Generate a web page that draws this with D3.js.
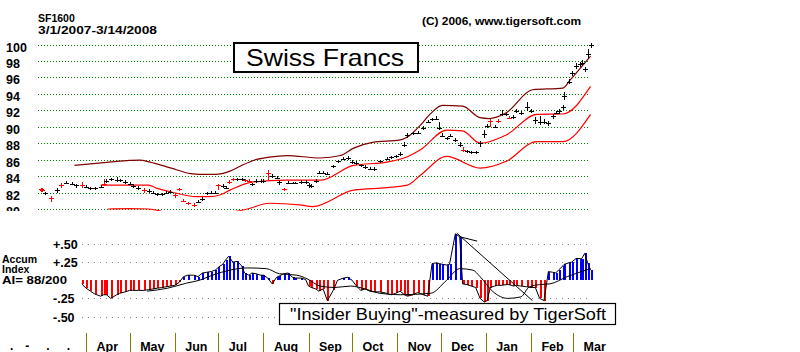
<!DOCTYPE html>
<html>
<head>
<meta charset="utf-8">
<script src="https://cdn.jsdelivr.net/npm/d3@7"></script>
<style>
body{margin:0;background:#fff}
text{font-family:"Liberation Sans",Arial,sans-serif}
</style>
</head>
<body>
<div id="chart"></div>
<script>
// daily bars (sampled), Swiss Francs SF1600
const priceDates = [
 "2007-03-01","2007-03-02","2007-03-04","2007-03-08","2007-03-12","2007-03-15","2007-03-18","2007-03-22","2007-03-25","2007-03-29",
 "2007-04-01","2007-04-04","2007-04-07","2007-04-11","2007-04-13","2007-04-15","2007-04-18","2007-04-22","2007-04-24","2007-04-28",
 "2007-05-01","2007-05-03","2007-05-07","2007-05-11","2007-05-14","2007-05-17","2007-05-20","2007-05-23","2007-05-26","2007-05-29",
 "2007-06-01","2007-06-04","2007-06-07","2007-06-10","2007-06-14","2007-06-17","2007-06-20","2007-06-23","2007-06-26","2007-06-29",
 "2007-07-01","2007-07-04","2007-07-06","2007-07-08","2007-07-11","2007-07-14","2007-07-17","2007-07-19","2007-07-22","2007-07-24","2007-07-27","2007-07-30",
 "2007-08-01","2007-08-04","2007-08-07","2007-08-10","2007-08-12","2007-08-15","2007-08-18","2007-08-21","2007-08-23","2007-08-27","2007-08-30",
 "2007-09-01","2007-09-03","2007-09-06","2007-09-08","2007-09-11","2007-09-14","2007-09-18","2007-09-21","2007-09-25","2007-09-28",
 "2007-10-01","2007-10-04","2007-10-07","2007-10-10","2007-10-13","2007-10-16","2007-10-20","2007-10-25","2007-10-28","2007-10-31",
 "2007-11-03","2007-11-06","2007-11-08","2007-11-12","2007-11-15","2007-11-19","2007-11-22","2007-11-25","2007-11-28","2007-11-30",
 "2007-12-02","2007-12-05","2007-12-07","2007-12-11","2007-12-14","2007-12-16","2007-12-19","2007-12-22","2007-12-25","2007-12-28","2007-12-31",
 "2008-01-02","2008-01-04","2008-01-07","2008-01-09","2008-01-12","2008-01-15","2008-01-17","2008-01-20","2008-01-22","2008-01-25","2008-01-29",
 "2008-02-01","2008-02-04","2008-02-07","2008-02-10","2008-02-13","2008-02-16","2008-02-18","2008-02-20","2008-02-23","2008-02-24","2008-02-27","2008-02-29",
 "2008-03-03","2008-03-06","2008-03-07","2008-03-09","2008-03-11","2008-03-13"
]
const priceClose = [
 82.4,82.3,81.9,81.3,82.3,82.9,83.2,83.1,82.9,82.9,
 82.7,82.5,82.5,82.7,83.1,83.4,83.6,83.5,83.5,83.3,
 83.1,82.8,82.55,82.3,82.2,82.0,81.8,81.8,82.0,82.1,
 81.65,82.4,81.0,80.7,80.5,80.9,81.2,81.9,82.0,82.0,
 82.9,82.8,82.6,83.3,83.6,83.6,83.6,83.5,83.4,83.0,83.4,83.4,
 83.4,84.4,84.0,83.8,83.3,82.4,83.2,83.15,83.15,83.3,83.3,
 82.9,82.8,83.4,84.4,84.4,84.3,85.2,85.8,86.05,86.15,
 85.7,85.6,85.3,85.1,84.9,84.9,85.8,86.05,86.3,86.4,
 86.7,87.8,89.0,89.2,89.3,89.85,90.6,90.9,91.0,89.85,
 88.9,88.6,88.9,88.4,87.8,87.2,87.0,86.9,86.9,88.0,89.1,
 90.1,90.7,90.0,90.75,91.6,91.5,91.1,91.2,91.9,91.7,92.4,
 91.9,90.8,90.6,90.6,90.4,91.3,91.7,91.9,92.4,93.7,95.5,96.5,
 97.4,97.6,97.8,97.0,98.8,100.0
]
const priceHigh = [
 82.6,82.5,82.1,81.6,82.5,83.2,83.4,83.3,83.1,83.3,
 82.9,82.7,82.7,82.9,83.6,83.6,83.8,83.9,83.7,83.5,
 83.3,83.0,82.8,82.5,82.4,82.2,82.0,82.0,82.2,82.3,
 81.9,82.6,81.2,80.9,80.7,81.1,81.4,82.1,82.2,82.2,
 83.1,83.0,82.8,83.5,83.8,83.8,83.8,83.7,83.6,83.2,83.6,83.6,
 83.6,84.7,84.2,84.0,83.5,82.6,83.4,83.3,83.3,83.5,83.5,
 83.2,83.0,83.6,84.6,84.6,84.5,85.4,86.0,86.3,86.4,
 85.9,85.8,85.5,85.3,85.1,85.1,86.0,86.3,86.5,86.6,
 86.9,88.1,89.2,89.4,89.5,90.1,90.8,91.1,91.3,90.6,
 89.2,88.8,89.1,88.6,88.1,87.5,87.2,87.1,87.1,88.3,89.6,
 90.3,91.0,90.2,91.0,92.0,91.7,91.3,91.4,92.1,91.9,93.0,
 92.1,91.2,91.3,91.0,90.7,91.5,91.9,92.1,92.7,94.2,95.8,96.8,
 97.8,97.9,98.1,97.3,99.4,100.2
]
const priceLow = [
 82.1,82.1,81.7,80.9,82.0,82.6,83.0,82.9,82.5,82.6,
 82.5,82.3,82.3,82.5,82.8,83.2,83.4,83.3,83.3,83.1,
 82.9,82.6,82.3,82.0,82.0,81.8,81.6,81.6,81.8,81.9,
 81.3,82.2,80.8,80.5,80.2,80.7,81.0,81.7,81.8,81.8,
 82.3,82.6,82.4,83.1,83.4,83.4,83.4,83.3,83.2,82.8,83.2,83.2,
 83.2,83.5,83.8,83.6,82.9,82.2,83.0,83.0,83.0,83.1,83.1,
 82.5,82.6,83.2,84.2,84.2,84.1,85.0,85.6,85.9,85.9,
 85.5,85.4,85.1,84.9,84.7,84.6,85.6,85.9,86.1,86.2,
 86.5,87.5,88.6,89.0,89.1,89.6,90.4,90.7,90.8,89.6,
 88.7,88.4,88.7,88.2,87.5,86.9,86.8,86.7,86.7,87.5,88.6,
 89.9,90.0,89.8,90.5,91.3,91.3,90.9,91.0,91.7,91.4,91.9,
 91.7,90.3,90.2,90.3,90.1,91.0,91.5,91.6,92.0,93.2,95.2,96.2,
 97.0,97.3,97.5,96.7,98.4,99.6
]
// 1 = red bar
const priceRed = [
 1,1,0,1,0,1,0,0,0,1,
 0,0,0,0,1,0,0,0,0,0,
 0,0,0,1,0,0,0,0,0,0,
 1,1,1,1,1,0,0,0,0,0,
 1,0,0,1,1,0,0,1,1,0,0,0,
 0,1,0,0,0,1,0,0,0,0,0,
 0,0,0,0,0,0,0,0,0,0,
 0,0,0,0,0,0,0,0,0,0,
 0,0,0,0,0,0,0,0,0,0,
 0,0,0,0,0,1,0,0,0,0,0,
 0,1,0,1,0,0,1,0,0,0,0,
 0,0,0,0,0,0,0,0,0,0,0,0,
 0,0,0,0,0,0
]

// bands
const upperDates = ["2007-03-24","2007-04-17","2007-05-01","2007-05-08","2007-05-15","2007-05-29","2007-06-12","2007-06-18","2007-06-29","2007-07-09","2007-07-16","2007-07-25","2007-08-05","2007-08-17","2007-09-09","2007-09-23","2007-10-02","2007-10-15","2007-11-03","2007-11-10","2007-11-17","2007-11-24","2007-12-02","2007-12-16","2007-12-28","2008-01-03","2008-01-15","2008-02-02","2008-02-23","2008-02-28","2008-03-13"]
const upperValues = [85.3,85.7,85.9,85.95,85.7,85.0,84.3,84.2,84.2,84.6,85.2,85.9,86.3,86.5,86.2,86.5,87.4,88.1,88.4,89.0,90.2,91.6,92.6,92.5,91.1,91.0,91.7,94.5,94.7,95.7,98.6]
const midDates = ["2007-04-11","2007-05-01","2007-05-14","2007-05-20","2007-05-29","2007-06-16","2007-06-25","2007-07-02","2007-07-09","2007-07-25","2007-08-17","2007-09-09","2007-10-02","2007-10-25","2007-11-08","2007-11-17","2007-12-05","2007-12-16","2007-12-28","2008-01-15","2008-02-05","2008-02-23","2008-03-13"]
const midValues = [82.9,82.9,82.9,82.5,82.1,81.5,81.5,81.7,82.3,83.3,83.5,83.5,85.3,85.7,86.35,87.2,89.6,89.5,88.0,89.0,91.5,91.55,94.9]
const lowerDates = ["2007-04-16","2007-05-01","2007-05-14","2007-05-29","2007-06-16","2007-07-02","2007-07-21","2007-08-05","2007-08-26","2007-09-04","2007-10-02","2007-10-25","2007-11-08","2007-11-17","2007-12-05","2007-12-28","2008-01-15","2008-02-05","2008-02-23","2008-03-13"]
const lowerValues = [80.0,80.05,80.0,79.5,79.2,79.4,80.0,80.7,80.5,80.3,82.3,82.6,82.9,84.1,86.4,84.97,85.8,88.2,88.2,91.5]

// accumulation index, from 2007-03-29 on
const aiValues = [
 -0.05,
 -0.11,-0.15,-0.19,-0.22,-0.20,-0.20,-0.25,-0.20,-0.18,-0.16,
 -0.14,-0.14,-0.14,-0.14,-0.13,-0.12,-0.11,-0.10,-0.09,-0.08,
 -0.07,-0.03,0.05,0.07,0.07,0.05,0.10,0.11,0.12,0.14,
 0.18,0.22,0.28,0.33,0.25,0.26,0.20,0.10,0.07,0.10,0.09,0.07,
 0.07,0.03,-0.05,0.04,0.06,0.09,0.10,0.04,0.03,0.03,0.01,
 -0.08,-0.10,-0.12,-0.15,-0.12,-0.28,-0.14,0.00,0.03,0.04,
 0.00,-0.08,-0.14,-0.12,-0.15,-0.16,-0.16,-0.18,-0.20,-0.18,
 -0.15,-0.20,-0.22,-0.20,-0.17,-0.20,-0.22,0.23,0.24,0.23,
 0.22,0.21,0.22,0.64,0.60,-0.05,-0.06,-0.08,-0.10,-0.25,-0.30,
 -0.28,-0.10,-0.08,-0.07,-0.07,-0.06,-0.06,-0.08,-0.07,-0.08,-0.09,
 -0.10,-0.10,-0.25,-0.28,0.12,0.11,0.10,0.14,0.20,0.22,0.24,0.25,
 0.30,0.30,0.30,0.37,0.24,0.14
]
const aiAvgDates = ["2007-05-13","2007-05-27","2007-06-09","2007-06-18","2007-06-27","2007-07-09","2007-07-21","2007-08-03","2007-08-12","2007-08-24","2007-08-31","2007-09-09","2007-09-19","2007-09-30","2007-10-10","2007-10-20","2007-11-03","2007-11-24","2007-12-05","2007-12-14","2007-12-23","2007-12-28","2008-01-06","2008-01-16","2008-01-25","2008-01-31","2008-02-07","2008-02-14","2008-02-26","2008-03-13"]
const aiAvgValues = [-0.15,-0.11,-0.04,0.0,0.07,0.14,0.17,0.16,0.09,0.07,0.02,-0.08,-0.10,-0.08,-0.12,-0.18,-0.20,-0.18,0.0,0.16,0.14,0.05,-0.16,-0.25,-0.23,-0.09,-0.06,-0.05,0.05,0.16]
const trendA = {dates: ["2007-12-12","2008-02-02"], values: [0.65,-0.28]}
const trendB = {dates: ["2007-12-14","2007-12-26"], values: [0.60,0.54]}

const priceTicks = [80,82,84,86,88,90,92,94,96,98,100]
const aiTicks = [0.5,0.25,-0.25,-0.5]
const monthLabels = ["Apr","May","Jun","Jul","Aug","Sep","Oct","Nov","Dec","Jan","Feb","Mar"]

const parse = d3.timeParse("%Y-%m-%d")
const width = 800, height = 352

const svg = d3.select("#chart").append("svg")
  .attr("width", width).attr("height", height)

const x = d3.scaleTime().domain([parse("2007-03-01"), parse("2008-03-14")]).range([41, 592])
const y = d3.scaleLinear().domain([80, 100]).range([209, 44.5])
const ya = d3.scaleLinear().domain([-0.5, 0.5]).range([316.5, 244])

// ---- price panel (clipped at the bottom like the original)
svg.append("clipPath").attr("id", "pclip")
  .append("rect").attr("x", 0).attr("y", 36).attr("width", width).attr("height", 175)
const priceG = svg.append("g").attr("clip-path", "url(#pclip)")

const yAxis = priceG.append("g").attr("transform", "translate(38,0)")
  .call(d3.axisLeft(y).tickValues(priceTicks).tickSize(-552).tickFormat(d3.format("d")))
yAxis.select(".domain").remove()
yAxis.selectAll(".tick line")
  .attr("stroke", "#008000").attr("stroke-dasharray", "1,2").attr("shape-rendering", "crispEdges")
yAxis.selectAll(".tick text")
  .attr("x", -32).attr("dy", null).attr("y", 6.5)
  .attr("text-anchor", "start").attr("fill", "#000")
  .style("font-size", "12.5px").style("font-weight", "bold")

const bands = [
  {dates: upperDates, values: upperValues, color: "#800000"},
  {dates: midDates, values: midValues, color: "#ff0000"},
  {dates: lowerDates, values: lowerValues, color: "#ff0000"}
]
const bandLine = d3.line().curve(d3.curveMonotoneX)
  .x(d => x(d[0])).y(d => y(d[1]))
priceG.selectAll("path.band").data(bands).join("path")
  .attr("class", "band")
  .attr("d", b => bandLine(b.dates.map((d, i) => [parse(d), b.values[i]])))
  .attr("fill", "none").attr("stroke", b => b.color).attr("stroke-width", 1.2)

const bars = priceDates.map((d, i) => ({
  date: parse(d), hi: priceHigh[i], lo: priceLow[i], cl: priceClose[i], red: priceRed[i]
}))
const barG = priceG.append("g").attr("shape-rendering", "crispEdges")
barG.selectAll("line.hl").data(bars).join("line")
  .attr("class", "hl")
  .attr("x1", d => Math.round(x(d.date)) + 0.5).attr("x2", d => Math.round(x(d.date)) + 0.5)
  .attr("y1", d => y(d.hi)).attr("y2", d => y(d.lo))
  .attr("stroke", d => d.red ? "#ff0000" : "#000")
barG.selectAll("line.cl").data(bars).join("line")
  .attr("class", "cl")
  .attr("x1", d => Math.round(x(d.date)) - 2).attr("x2", d => Math.round(x(d.date)) + 3)
  .attr("y1", d => Math.round(y(d.cl)) + 0.5).attr("y2", d => Math.round(y(d.cl)) + 0.5)
  .attr("stroke", d => d.red ? "#ff0000" : "#000")

// ---- titles
svg.append("text").attr("x", 38).attr("y", 22).text("SF1600")
  .style("font-size", "10.5px").style("font-weight", "bold")
svg.append("text").attr("x", 38).attr("y", 34).text("3/1/2007-3/14/2008")
  .attr("textLength", 119).attr("lengthAdjust", "spacingAndGlyphs")
  .style("font-size", "10.5px").style("font-weight", "bold")
svg.append("text").attr("x", 422).attr("y", 24.5).text("(C) 2006, www.tigersoft.com")
  .attr("textLength", 159).attr("lengthAdjust", "spacingAndGlyphs")
  .style("font-size", "11.5px").style("font-weight", "bold")

svg.append("rect").attr("x", 234).attr("y", 43).attr("width", 184).attr("height", 29)
  .attr("fill", "#fff").attr("stroke", "#000").attr("stroke-width", 2)
svg.append("text").attr("x", 246).attr("y", 66).text("Swiss Francs")
  .attr("textLength", 158).attr("lengthAdjust", "spacingAndGlyphs")
  .style("font-size", "24px")

// ---- accumulation index panel
const aAxis = svg.append("g").attr("transform", "translate(82,0)")
  .call(d3.axisLeft(ya).tickValues(aiTicks).tickSize(-508)
    .tickFormat(d => (d > 0 ? "+" : "-") + d3.format(".2f")(Math.abs(d)).slice(1)))
aAxis.select(".domain").remove()
aAxis.selectAll(".tick line")
  .attr("stroke", "#a0809a").attr("stroke-dasharray", "1,5").attr("shape-rendering", "crispEdges")
aAxis.selectAll(".tick text")
  .attr("x", -29).attr("dy", null).attr("y", 4.5)
  .attr("text-anchor", "start").attr("fill", "#000")
  .style("font-size", "12.5px").style("font-weight", "bold")

const ai = aiValues.map((v, i) => ({date: parse(priceDates[i + 9]), v: v}))
svg.append("g").attr("shape-rendering", "crispEdges")
  .selectAll("line").data(ai).join("line")
  .attr("x1", d => Math.round(x(d.date)) + 0.5).attr("x2", d => Math.round(x(d.date)) + 0.5)
  .attr("y1", ya(0)).attr("y2", d => ya(d.v))
  .attr("stroke", d => d.v >= 0 ? "#0000ff" : "#ff0000").attr("stroke-width", 2)

const aLine = d3.line().x(d => x(d.date)).y(d => ya(d.v))
svg.append("path").attr("d", aLine(ai))
  .attr("fill", "none").attr("stroke", "#000").attr("stroke-width", 1)

const avg = aiAvgDates.map((d, i) => ({date: parse(d), v: aiAvgValues[i]}))
svg.append("path").attr("d", d3.line().curve(d3.curveMonotoneX).x(d => x(d.date)).y(d => ya(d.v))(avg))
  .attr("fill", "none").attr("stroke", "#000").attr("stroke-width", 1)

;[trendA, trendB].forEach(t => {
  const pts = t.dates.map((d, i) => ({date: parse(d), v: t.values[i]}))
  svg.append("path").attr("d", aLine(pts))
    .attr("fill", "none").attr("stroke", "#000").attr("stroke-width", 1)
})

svg.append("text").attr("x", 2).attr("y", 262.5).text("Accum")
  .style("font-size", "10.5px").style("font-weight", "bold")
svg.append("text").attr("x", 2).attr("y", 273).text("Index")
  .style("font-size", "10.5px").style("font-weight", "bold")
svg.append("text").attr("x", 2).attr("y", 283.5).text("AI= 88/200")
  .attr("textLength", 65).attr("lengthAdjust", "spacingAndGlyphs")
  .style("font-size", "10.5px").style("font-weight", "bold")

svg.append("rect").attr("x", 279.5).attr("y", 303.5).attr("width", 336).attr("height", 21)
  .attr("fill", "#fff").attr("stroke", "#000").attr("stroke-width", 1.2)
svg.append("text").attr("x", 290).attr("y", 319.5).text("\"Insider Buying\"-measured by TigerSoft")
  .attr("textLength", 316).attr("lengthAdjust", "spacingAndGlyphs")
  .style("font-size", "16.5px")

// ---- month axis
const monthTicks = d3.timeMonth.range(parse("2007-04-01"), parse("2008-03-02"))
const mAxis = svg.append("g").attr("transform", "translate(0,333)")
  .call(d3.axisBottom(x).tickValues(monthTicks).tickSize(19)
    .tickFormat((d, i) => monthLabels[i]))
mAxis.select(".domain").remove()
mAxis.selectAll(".tick line").attr("stroke", "#808000").attr("shape-rendering", "crispEdges")
mAxis.selectAll(".tick text")
  .attr("x", 10).attr("y", 17.5).attr("dy", null)
  .attr("text-anchor", "start").attr("fill", "#000")
  .style("font-size", "12.5px").style("font-weight", "bold")

svg.append("text").attr("x", 10).attr("y", 350).text(".  -   .   .")
  .attr("xml:space", "preserve").attr("textLength", 60)
  .style("font-size", "12px").style("font-weight", "bold")
</script>
</body>
</html>
